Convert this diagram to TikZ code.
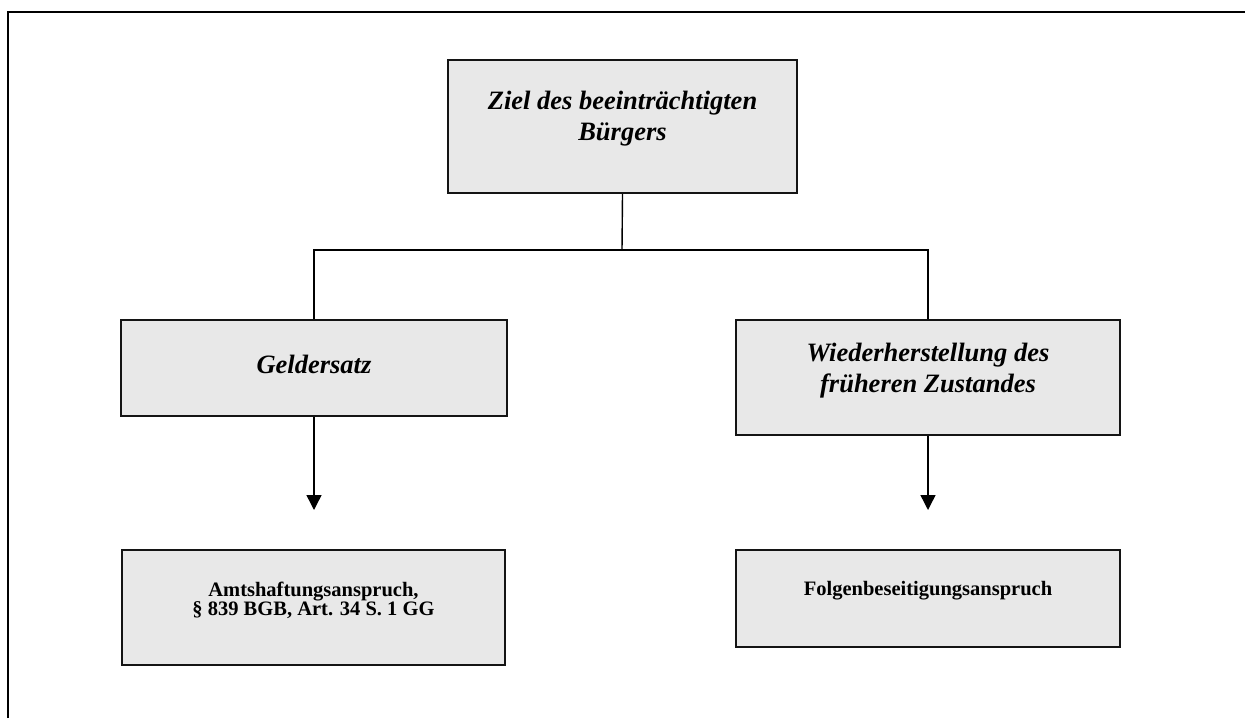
\documentclass[tikz,border=0pt]{standalone}
\usepackage{fontspec}
\setmainfont{Liberation Serif}
\usetikzlibrary{arrows.meta}

\definecolor{boxfill}{HTML}{E8E8E8}

\begin{document}
\begin{tikzpicture}[x=1pt,y=-1pt,
  box/.style={draw=black!92,fill=boxfill,line width=2pt,rectangle,inner sep=0pt},
  headtxt/.style={align=center,inner sep=0pt,font=\fontsize{26.5}{30.5}\selectfont\bfseries\itshape},
  subtxt/.style={align=center,inner sep=0pt,font=\fontsize{20.5}{19.5}\selectfont\bfseries},
  conn/.style={line width=1.4pt,draw=black},
  arr/.style={conn,-{Triangle[length=15pt,width=15pt]}},
  frameline/.style={line width=2.2pt,draw=black}]

  \useasboundingbox (0,0) rectangle (1245,718);

  % page frame (top and left edges)
  \draw[frameline] (8,718) -- (8,12) -- (1245,12);

  % boxes
  \node[box,minimum width=349pt,minimum height=133pt] (top) at (622.5,126.5) {};
  \node[box,minimum width=386pt,minimum height=96pt]  (gl)  at (314,368) {};
  \node[box,minimum width=384pt,minimum height=115pt] (wi)  at (928,377.5) {};
  \node[box,minimum width=383pt,minimum height=115pt] (ah)  at (313.5,607.5) {};
  \node[box,minimum width=384pt,minimum height=97pt]  (fb)  at (928,598.5) {};

  % box texts
  \node[headtxt] (topT) at ([yshift=8pt]top.center) {Ziel des beeinträchtigten\\Bürgers};
  \node[headtxt] (glT)  at ([yshift=4pt]gl.center)  {Geldersatz};
  \node[headtxt] (wiT)  at ([yshift=7pt]wi.center)  {Wiederherstellung des\\früheren Zustandes};
  \node[subtxt]  (ahT)  at ([yshift=7pt]ah.center)  {Amtshaftungsanspruch,\\§ 839 BGB, Art. 34 S. 1 GG};
  \node[subtxt]  (fbT)  at ([yshift=8pt]fb.center)  {Folgenbeseitigungsanspruch};

  % branching connectors
  \coordinate (j) at (622,250);
  \draw[conn] (top.south) -- (j);
  \draw[conn] (gl.north) |- (j) -| (wi.north);

  % arrows towards the claims
  \coordinate (a1) at (314,510);
  \coordinate (a2) at (928,510);
  \draw[arr] (gl.south) -- (a1);
  \draw[arr] (wi.south) -- (a2);
\end{tikzpicture}
\end{document}
